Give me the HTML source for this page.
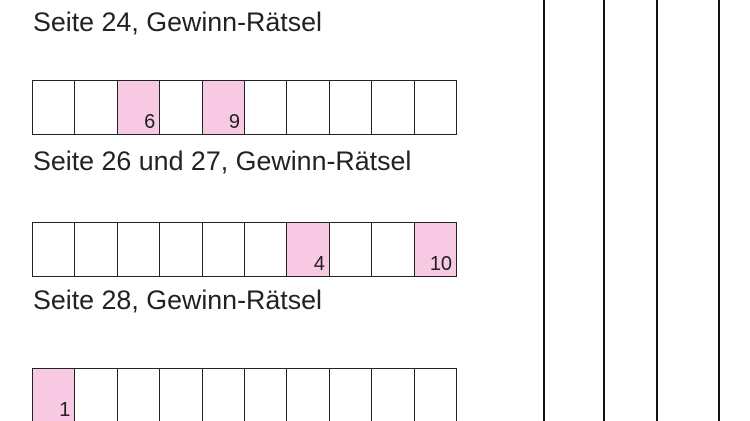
<!DOCTYPE html>
<html style="width:750px;height:421px;overflow:hidden"><head><style>
body{margin:0;width:750px;height:421px;background:#fff;position:relative;overflow:hidden;font-family:"Liberation Sans",Arial,sans-serif;color:#222}
.t{position:absolute;left:33px;font-size:26.8px;line-height:1;white-space:nowrap}
.row{position:absolute;left:32px;width:425px;height:55px;display:flex;box-sizing:border-box;border-left:1px solid #222}
.c{width:42.5px;height:100%;box-sizing:border-box;border-top:1px solid #222;border-bottom:1px solid #222;border-right:1px solid #222;position:relative;font-size:20px;line-height:1}
.p{background:#f7c9e3}
.c span{position:absolute;right:4px;bottom:2px}
.v{position:absolute;top:0;height:421px;width:2px;background:#111}
</style></head><body>
<div class="t" style="top:9px">Seite 24, Gewinn-Rätsel</div>
<div class="row" style="top:80px">
<div class="c"></div><div class="c"></div><div class="c p"><span>6</span></div><div class="c"></div><div class="c p"><span>9</span></div><div class="c"></div><div class="c"></div><div class="c"></div><div class="c"></div><div class="c"></div>
</div>
<div class="t" style="top:148px">Seite 26 und 27, Gewinn-Rätsel</div>
<div class="row" style="top:222px">
<div class="c"></div><div class="c"></div><div class="c"></div><div class="c"></div><div class="c"></div><div class="c"></div><div class="c p"><span>4</span></div><div class="c"></div><div class="c"></div><div class="c p"><span>10</span></div>
</div>
<div class="t" style="top:287px">Seite 28, Gewinn-Rätsel</div>
<div class="row" style="top:368px;height:60px">
<div class="c p"><span style="bottom:7px">1</span></div><div class="c"></div><div class="c"></div><div class="c"></div><div class="c"></div><div class="c"></div><div class="c"></div><div class="c"></div><div class="c"></div><div class="c"></div>
</div>
<div class="v" style="left:543px"></div>
<div class="v" style="left:603px"></div>
<div class="v" style="left:656px"></div>
<div class="v" style="left:718px"></div>
</body></html>
